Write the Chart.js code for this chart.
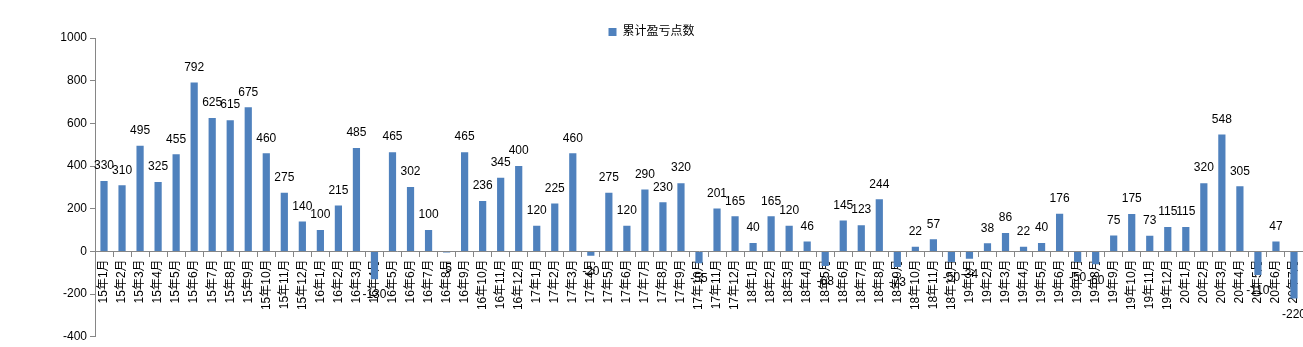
<!DOCTYPE html>
<html>
<head>
<meta charset="utf-8">
<script src="https://cdn.jsdelivr.net/npm/chart.js@4"></script>
<style>
  html, body { margin: 0; padding: 0; background: #fff; }
  #box { width: 1303px; height: 347px; }
</style>
</head>
<body>
<div id="box"><canvas id="pnlChart"></canvas></div>
<script>
// months 15年1月 .. 20年7月
const years = ['15', '16', '17', '18', '19', '20'];
const monthsPerYear = [12, 12, 12, 12, 12, 7];
const seriesName = '累计盈亏点数';
const points = [
    330, 310, 495, 325, 455, 792, 625, 615, 675, 460, 275, 140,
    100, 215, 485, -130, 465, 302, 100, -5, 465, 236, 345, 400,
    120, 225, 460, -20, 275, 120, 290, 230, 320, -55, 201, 165,
    40, 165, 120, 46, -68, 145, 123, 244, -73, 22, 57, -50,
    -34, 38, 86, 22, 40, 176, -50, -60, 75, 175, 73, 115,
    115, 320, 548, 305, -110, 47, -220
];
const yTicks = [-400, -200, 0, 200, 400, 600, 800, 1000];

const labels = [];
years.forEach((y, i) => {
    for (let m = 1; m <= monthsPerYear[i]; m++) labels.push(y + '年' + m + '月');
});

const FONT = "'Liberation Sans', 'Noto Sans CJK SC', sans-serif";
const axisGray = '#868686';

// value text above / below each bar
const barValueLabels = {
    id: 'barValueLabels',
    afterDatasetsDraw(chart) {
        const ctx = chart.ctx;
        const meta = chart.getDatasetMeta(0);
        const data = chart.data.datasets[0].data;
        ctx.save();
        ctx.font = '12px ' + FONT;
        ctx.fillStyle = '#000';
        ctx.textAlign = 'center';
        ctx.textBaseline = 'middle';
        meta.data.forEach((bar, i) => {
            const v = data[i];
            const y = v >= 0 ? bar.y - 15 : bar.y + 16;
            ctx.fillText(String(v), bar.x, y);
        });
        ctx.restore();
    }
};

new Chart(document.getElementById('pnlChart'), {
    type: 'bar',
    data: {
        labels: labels,
        datasets: [{
            label: seriesName,
            data: points,
            backgroundColor: '#4F81BD',
            categoryPercentage: 1,
            barPercentage: 0.4
        }]
    },
    options: {
        responsive: true,
        maintainAspectRatio: false,
        animation: false,
        layout: { padding: { top: 24, bottom: 9, left: 0, right: 0 } },
        plugins: {
            legend: {
                display: true,
                maxHeight: 14,
                labels: {
                    boxWidth: 8,
                    boxHeight: 8,
                    padding: 2,
                    color: '#000',
                    font: { size: 12, family: FONT }
                }
            },
            tooltip: { enabled: false }
        },
        scales: {
            x: {
                position: { y: 0 },
                grid: {
                    drawOnChartArea: false,
                    drawTicks: true,
                    tickLength: 5,
                    color: axisGray,
                    offset: true
                },
                border: { color: axisGray },
                ticks: {
                    autoSkip: false,
                    maxRotation: 90,
                    minRotation: 90,
                    padding: 3,
                    color: '#000',
                    font: { size: 12, family: FONT }
                },
                afterFit: (scale) => {
                    scale.height = 0;
                    scale.paddingLeft = 0;
                    scale.paddingRight = 0;
                }
            },
            y: {
                min: -400,
                max: 1000,
                afterBuildTicks: (scale) => {
                    scale.ticks = yTicks.map(v => ({ value: v }));
                },
                grid: {
                    drawOnChartArea: false,
                    drawTicks: true,
                    tickLength: 5,
                    color: axisGray
                },
                border: { color: axisGray },
                ticks: {
                    padding: 3,
                    color: '#000',
                    font: { size: 12, family: FONT },
                    callback: (v) => String(v)
                },
                afterFit: (scale) => {
                    scale.width = 95;
                }
            }
        }
    },
    plugins: [barValueLabels]
});
</script>
</body>
</html>
